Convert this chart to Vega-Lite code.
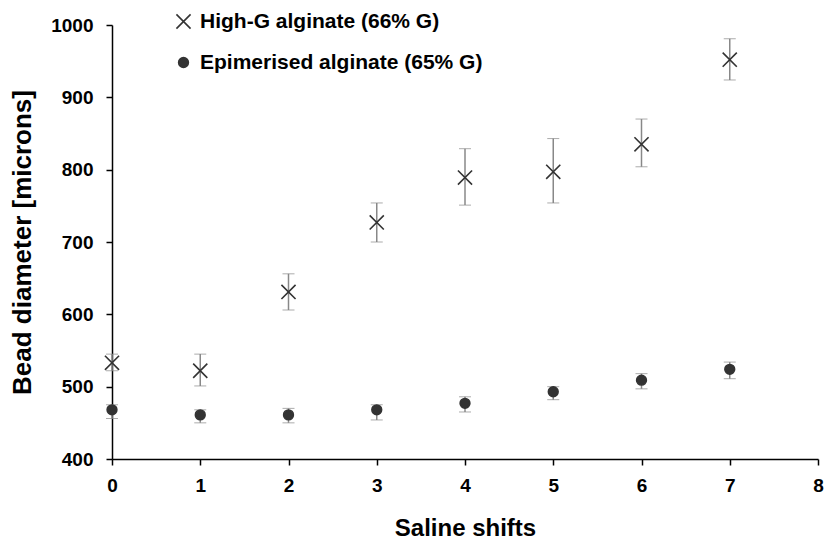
{
  "$schema": "https://vega.github.io/schema/vega-lite/v6.json",
  "width": 706,
  "height": 434,
  "autosize": {"type": "none"},
  "padding": {"left": 112, "top": 25, "right": 7, "bottom": 83},
  "background": "white",
  "config": {
    "view": {"stroke": null},
    "font": "Liberation Sans",
    "axis": {"grid": false, "labelFlush": false, "domainColor": "#000", "tickColor": "#000", "domainWidth": 1.5, "tickWidth": 1.5, "labelColor": "#000", "titleColor": "#000", "labelFontWeight": "bold", "titleFontWeight": "bold", "labelFont": "Liberation Sans", "titleFont": "Liberation Sans"}
  },
  "data": {"values": [
    {"shift": 0, "series": "High-G alginate (66% G)", "mean": 533, "lo": 522, "hi": 545},
    {"shift": 1, "series": "High-G alginate (66% G)", "mean": 522, "lo": 501, "hi": 545},
    {"shift": 2, "series": "High-G alginate (66% G)", "mean": 631, "lo": 606, "hi": 656},
    {"shift": 3, "series": "High-G alginate (66% G)", "mean": 727, "lo": 700, "hi": 754},
    {"shift": 4, "series": "High-G alginate (66% G)", "mean": 789, "lo": 751, "hi": 829},
    {"shift": 5, "series": "High-G alginate (66% G)", "mean": 797, "lo": 754, "hi": 843},
    {"shift": 6, "series": "High-G alginate (66% G)", "mean": 835, "lo": 804, "hi": 870},
    {"shift": 7, "series": "High-G alginate (66% G)", "mean": 952, "lo": 924, "hi": 981},
    {"shift": 0, "series": "Epimerised alginate (65% G)", "mean": 468, "lo": 456, "hi": 475},
    {"shift": 1, "series": "Epimerised alginate (65% G)", "mean": 461, "lo": 450, "hi": 468},
    {"shift": 2, "series": "Epimerised alginate (65% G)", "mean": 461, "lo": 450, "hi": 470},
    {"shift": 3, "series": "Epimerised alginate (65% G)", "mean": 468, "lo": 454, "hi": 475},
    {"shift": 4, "series": "Epimerised alginate (65% G)", "mean": 477, "lo": 465, "hi": 486},
    {"shift": 5, "series": "Epimerised alginate (65% G)", "mean": 493, "lo": 482, "hi": 500},
    {"shift": 6, "series": "Epimerised alginate (65% G)", "mean": 509, "lo": 497, "hi": 518},
    {"shift": 7, "series": "Epimerised alginate (65% G)", "mean": 524, "lo": 511, "hi": 534}
  ]},
  "layer": [
    {
      "mark": {"type": "errorbar", "ticks": {"size": 12, "color": "#888888", "strokeWidth": 1.5}, "rule": {"color": "#888888", "strokeWidth": 1.5}},
      "encoding": {
        "x": {"field": "shift", "type": "quantitative", "scale": {"domain": [0, 8], "nice": false}, "axis": {"title": "Saline shifts", "values": [0,1,2,3,4,5,6,7,8], "labelFontSize": 19, "titleFontSize": 24, "tickSize": 6, "labelPadding": 11, "titlePadding": 21, "format": "d", "labelFlush": false}},
        "y": {"field": "lo", "type": "quantitative", "scale": {"domain": [400, 1000], "nice": false, "zero": false}, "axis": {"title": "Bead diameter [microns]", "values": [400,500,600,700,800,900,1000], "format": "d", "labelFontSize": 19, "titleFontSize": 26, "tickSize": 6, "labelPadding": 13, "titlePadding": 15, "labelFlush": false}},
        "y2": {"field": "hi"}
      }
    },
    {
      "mark": {"type": "point", "opacity": 1, "strokeWidth": 1.6, "size": 95},
      "encoding": {
        "x": {"field": "shift", "type": "quantitative", "axis": {"title": "Saline shifts", "values": [0,1,2,3,4,5,6,7,8], "labelFontSize": 19, "titleFontSize": 24, "tickSize": 6, "labelPadding": 11, "titlePadding": 21, "format": "d", "labelFlush": false}},
        "y": {"field": "mean", "type": "quantitative", "axis": {"title": "Bead diameter [microns]", "values": [400,500,600,700,800,900,1000], "format": "d", "labelFontSize": 19, "titleFontSize": 26, "tickSize": 6, "labelPadding": 13, "titlePadding": 15, "labelFlush": false}},
        "shape": {"field": "series", "type": "nominal", "scale": {"domain": ["High-G alginate (66% G)", "Epimerised alginate (65% G)"], "range": ["M-1.45,-1.45L1.45,1.45M-1.45,1.45L1.45,-1.45", "circle"]}, "legend": {"title": null, "orient": "none", "legendX": 61, "legendY": -14, "labelFontSize": 21, "labelFontWeight": "bold", "labelColor": "#000", "labelFont": "Liberation Sans", "labelLimit": 0, "rowPadding": 19, "labelOffset": 6, "symbolSize": 95, "symbolStrokeWidth": 1.6, "padding": 0}},
        "fill": {"field": "series", "type": "nominal", "scale": {"domain": ["High-G alginate (66% G)", "Epimerised alginate (65% G)"], "range": ["transparent", "#333333"]}, "legend": {"title": null, "orient": "none", "legendX": 61, "legendY": -14, "labelLimit": 0}},
        "stroke": {"field": "series", "type": "nominal", "scale": {"domain": ["High-G alginate (66% G)", "Epimerised alginate (65% G)"], "range": ["#333333", "#333333"]}, "legend": {"title": null, "orient": "none", "legendX": 61, "legendY": -14, "labelLimit": 0}}
      }
    }
  ]
}
